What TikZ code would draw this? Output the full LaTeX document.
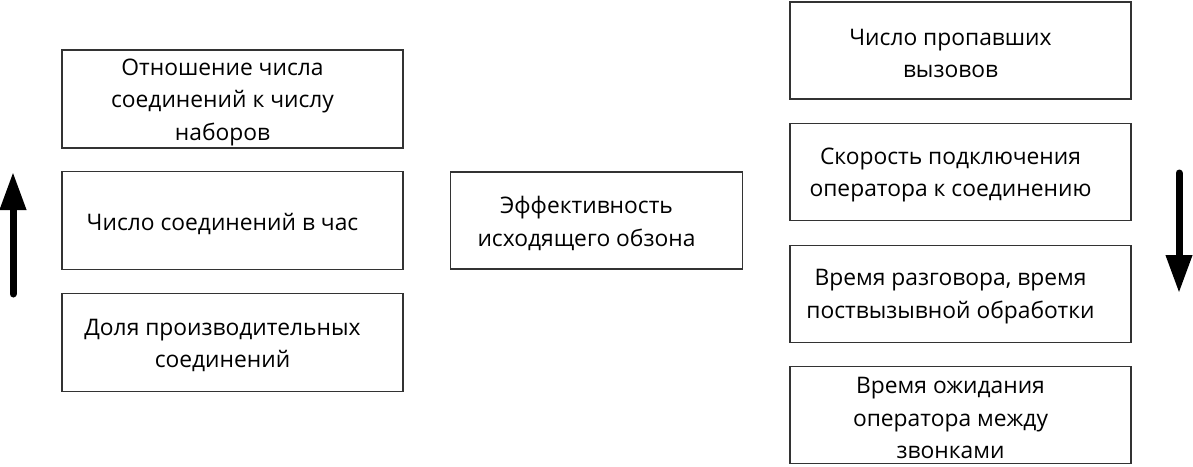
\documentclass[tikz,border=0pt]{standalone}
\usepackage{fontspec}
\setmainfont{Open Sans}
\usetikzlibrary{positioning}
\usetikzlibrary{arrows.meta}
\tikzset{metric/.style={rectangle, draw=black!80, line width=1.3pt, fill=white,
  minimum width=341pt, minimum height=98pt, inner sep=0pt, node distance=22.5pt}}
\tikzset{txt/.style={font=\fontsize{22.8}{32.5}\selectfont, align=center, xshift=-10pt, yshift=-3pt}}
\tikzset{trend/.style={line width=7pt, line cap=round, -{Triangle[width=25pt,length=38pt]}}}

\begin{document}
\begin{tikzpicture}[x=1pt, y=-1pt]
  \useasboundingbox (0,0) rectangle (1193,466);

  % left column
  \node[metric, label={[txt]center:Отношение числа\\соединений к числу\\наборов}] (ratio) at (232.5,99) {};
  \node[metric, below=of ratio, label={[txt]center:Число соединений в час}] (perhour) {};
  \node[metric, below=of perhour, label={[txt]center:Доля производительных\\соединений}] (share) {};

  % centre
  \node[metric, minimum width=292pt, minimum height=97pt,
    label={[txt]center:Эффективность\\исходящего обзона}] (eff) at (596.5,220.5) {};

  % right column
  \node[metric, minimum height=97pt, label={[txt]center:Число пропавших\\вызовов}] (lost) at (960.5,50.5) {};
  \node[metric, minimum height=97pt, below=23.3pt of lost, label={[txt]center:Скорость подключения\\оператора к соединению}] (speed) {};
  \node[metric, minimum height=97pt, below=23.3pt of speed, label={[txt]center:Время разговора, время\\поствызывной обработки}] (talk) {};
  \node[metric, minimum height=97pt, below=23.3pt of talk, label={[txt]center:Время ожидания\\оператора между\\звонками}] (wait) {};

  % arrows
  \coordinate (upfrom) at (13,294);
  \coordinate (upto) at (13,172);
  \coordinate (downfrom) at (1179,173);
  \coordinate (downto) at (1179,293);
  \draw[trend] (upfrom) -- (upto);
  \draw[trend] (downfrom) -- (downto);
\end{tikzpicture}
\end{document}
